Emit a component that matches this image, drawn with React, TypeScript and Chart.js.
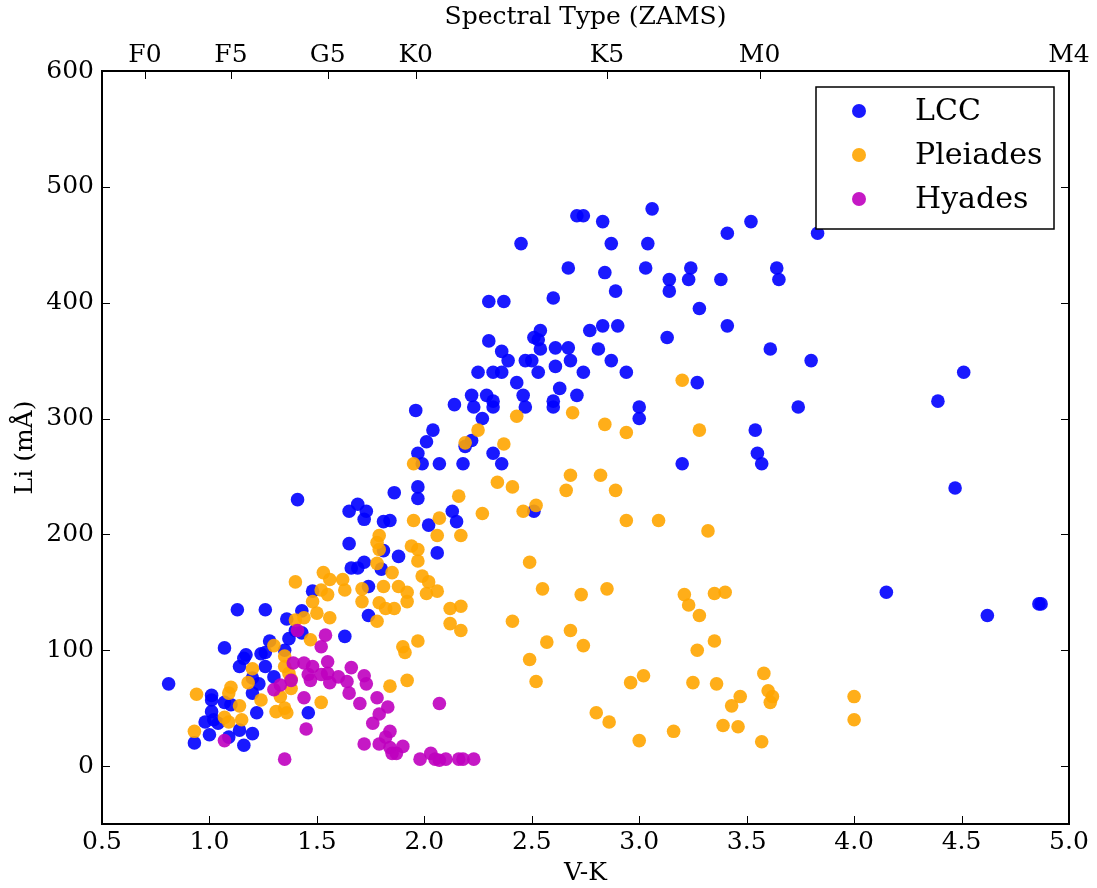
import React, { useEffect, useRef } from "react";
import { Chart, registerables } from "chart.js";
Chart.register(...registerables);

// ---- data (V-K colour, Li equivalent width in mÅ) ----
const lccVK = [0.81,0.93,1.01,1.01,1.07,1.13,1.26,1.41,1.65,1.65,1.66,1.48,1.43,1.36,1.40,1.43,1.37,1.28,1.35,1.24,1.26,1.17,1.16,1.26,1.14,1.30,1.20,1.23,1.20,1.07,1.10,1.01,0.98,1.02,1.04,1.14,1.20,1.00,1.09,1.16,1.22,1.46,1.63,
  1.96,2.14,2.22,2.29,2.32,2.32,2.23,2.27,2.43,2.46,2.47,2.63,2.60,2.60,2.71,2.04,2.01,1.97,1.99,2.07,2.18,2.22,2.19,2.32,2.36,1.97,1.97,1.86,1.69,1.73,1.72,1.81,1.84,2.13,2.15,2.02,2.51,1.81,1.88,2.06,1.80,1.72,1.69,1.74,1.74,
  2.71,2.74,2.83,3.06,2.45,2.87,3.04,2.67,2.84,3.03,3.14,3.14,2.89,2.60,2.30,2.37,2.30,2.36,2.39,2.25,2.32,2.36,2.51,2.54,2.53,2.54,2.61,2.67,2.47,2.50,2.68,2.61,2.53,2.74,2.77,2.83,2.90,2.81,2.87,2.94,3.13,3.00,3.00,
  3.52,3.41,3.83,3.24,3.23,3.38,3.64,3.65,3.28,3.41,3.61,3.80,3.27,3.74,3.54,3.55,3.57,3.20,4.51,4.39,4.47,4.15,4.62,4.86,4.87];
const lccLi = [71,20,61,57,102,135,135,230,220,192,171,151,134,127,117,115,110,108,100,97,98,96,93,86,86,77,76,71,63,55,53,47,38,40,37,31,28,27,25,18,46,46,112,
  307,312,320,320,315,310,310,300,331,320,310,326,315,310,320,290,280,270,261,261,261,281,276,270,261,241,231,236,226,220,213,211,212,220,211,208,220,186,181,184,170,176,171,155,130,
  475,475,470,481,451,451,451,430,426,430,420,410,410,404,401,401,367,358,350,340,340,340,370,376,368,360,361,361,350,350,350,345,340,340,376,380,380,360,350,340,370,310,300,
  470,460,460,430,420,420,430,420,395,380,360,350,331,310,290,270,261,261,340,315,240,150,130,140,140];

const pleVK = [0.94,0.93,1.10,1.09,1.14,1.07,1.09,1.15,1.20,1.18,1.24,1.30,1.35,1.35,1.37,1.38,1.38,1.33,1.31,1.35,1.36,1.52,1.47,1.40,1.44,1.40,1.48,1.50,1.52,1.55,1.53,1.56,1.56,1.62,1.63,
  2.43,2.69,2.25,2.19,2.37,1.95,2.68,2.66,2.34,2.41,2.16,2.27,2.52,2.46,1.95,2.07,2.06,2.17,1.79,1.78,1.79,1.78,1.94,1.97,1.97,2.49,1.85,1.99,2.02,2.06,2.01,1.92,1.88,1.81,1.71,2.55,1.92,1.86,1.82,1.79,1.71,2.12,2.17,2.12,2.17,1.78,2.41,1.97,1.90,1.91,2.49,2.68,2.57,2.52,1.84,1.92,
  3.20,2.84,2.94,3.28,2.82,2.89,2.94,3.09,3.32,2.73,2.85,3.21,3.23,3.28,3.35,3.40,2.74,3.27,3.35,3.02,2.96,3.25,3.36,3.58,3.60,3.62,3.61,3.47,3.43,4.00,4.00,2.80,2.86,3.39,3.46,3.16,3.00,3.57];
const pleLi = [62,30,68,63,52,42,38,40,84,72,57,104,95,86,80,75,67,60,47,50,46,55,109,126,128,159,142,132,152,148,167,161,128,161,152,
  302,305,290,279,278,261,251,238,245,241,233,218,225,220,212,214,199,199,199,193,187,175,190,187,177,176,167,164,159,151,149,150,155,155,153,153,142,136,136,141,142,136,138,123,117,125,125,108,103,98,92,117,107,73,69,74,
  333,295,288,290,251,238,212,212,203,148,153,148,139,130,149,150,104,100,108,78,72,72,71,80,65,60,55,60,52,60,40,46,38,35,34,30,22,21];

const hyaVK = [1.07,1.35,1.41,1.44,1.45,1.52,1.54,1.30,1.33,1.38,1.39,1.44,1.48,1.46,1.47,1.52,1.55,1.55,1.56,1.60,1.64,1.66,1.65,1.72,1.73,1.70,1.78,1.83,1.79,1.76,1.84,1.82,1.72,1.79,1.84,1.85,1.90,1.87,2.07,1.98,2.03,2.05,2.07,2.10,2.16,2.18,2.23];
const hyaLi = [22,6,117,59,32,103,113,66,70,74,89,89,86,79,74,79,90,80,72,77,73,85,63,78,71,54,59,51,45,37,30,25,19,19,16,11,17,11,54,6,11,6,5,6,6,6,6];

const xTickValues = [0.5,1.0,1.5,2.0,2.5,3.0,3.5,4.0,4.5,5.0];
const yTickValues = [0,100,200,300,400,500,600];
const spectralLabels = ["F0","F5","G5","K0","K5","M0","M4"];
const spectralVK = [0.70,1.10,1.55,1.96,2.85,3.56,5.0];

const seriesNames = ["LCC","Pleiades","Hyades"];
const seriesColors = ["rgba(0,0,255,0.9)","rgba(255,165,0,0.9)","rgba(191,0,191,0.9)"];

const FONT = "'DejaVu Serif', serif";

const toPoints = (xs: number[], ys: number[]) => xs.map((x, i) => ({ x, y: ys[i] }));

const framePlugin = {
  id: "framePlugin",
  afterDraw(chart: any) {
    const { ctx, chartArea, scales } = chart;
    const { left, right, top, bottom } = chartArea;
    ctx.save();
    ctx.strokeStyle = "#000";
    ctx.lineWidth = 1;
    const L = 8;
    ctx.beginPath();
    scales.x.ticks.forEach((t: any) => {
      const p = Math.round(scales.x.getPixelForValue(t.value)) + 0.5;
      ctx.moveTo(p, bottom); ctx.lineTo(p, bottom - L);
    });
    scales.x2.ticks.forEach((t: any) => {
      const p = Math.round(scales.x2.getPixelForValue(t.value)) + 0.5;
      ctx.moveTo(p, top); ctx.lineTo(p, top + L);
    });
    scales.y.ticks.forEach((t: any) => {
      const p = Math.round(scales.y.getPixelForValue(t.value)) + 0.5;
      ctx.moveTo(left, p); ctx.lineTo(left + L, p);
      ctx.moveTo(right, p); ctx.lineTo(right - L, p);
    });
    ctx.stroke();
    ctx.lineWidth = 2;
    ctx.strokeRect(left, top, right - left, bottom - top);

    // legend (upper right, inside axes)
    const bw = 238, bh = 142;
    const bx = right - 15 - bw, by = top + 16;
    ctx.fillStyle = "#fff";
    ctx.fillRect(bx, by, bw, bh);
    ctx.lineWidth = 1.5;
    ctx.strokeRect(bx, by, bw, bh);
    ctx.font = `30px ${FONT}`;
    ctx.textBaseline = "middle";
    ctx.textAlign = "left";
    chart.data.datasets.forEach((ds: any, i: number) => {
      const cy = by + 24 + i * 44;
      ctx.beginPath();
      ctx.fillStyle = ds.backgroundColor;
      ctx.arc(bx + 43, cy, 7, 0, Math.PI * 2);
      ctx.fill();
      ctx.fillStyle = "#000";
      ctx.fillText(ds.label, bx + 99, cy + 1);
    });
    ctx.restore();
  },
};

function fitBox(prop: "width" | "height", size: number) {
  return (scale: any) => {
    scale[prop] = size;
    scale.paddingLeft = 0;
    scale.paddingRight = 0;
    scale.paddingTop = 0;
    scale.paddingBottom = 0;
  };
}

export default function App() {
  const ref = useRef<HTMLCanvasElement>(null);
  useEffect(() => {
    if (!ref.current) return;
    const datasets = [
      { label: seriesNames[0], data: toPoints(lccVK, lccLi), order: 3 },
      { label: seriesNames[1], data: toPoints(pleVK, pleLi), order: 2 },
      { label: seriesNames[2], data: toPoints(hyaVK, hyaLi), order: 1 },
    ].map((d, i) => ({
      ...d,
      backgroundColor: seriesColors[i],
      borderColor: seriesColors[i],
      borderWidth: 0,
      pointRadius: 6.8,
      pointHoverRadius: 6.8,
    }));
    const tickFont = { family: FONT, size: 25 };
    const chart = new Chart(ref.current, {
      type: "scatter",
      data: { datasets },
      options: {
        animation: false,
        responsive: false,
        layout: { padding: { left: 0, right: 28, top: 0, bottom: 0 } },
        plugins: { legend: { display: false }, tooltip: { enabled: false } },
        scales: {
          x: {
            type: "linear",
            position: "bottom",
            min: 0.5,
            max: 5.0,
            grid: { display: false, drawTicks: false },
            border: { display: false },
            afterBuildTicks: (s: any) => { s.ticks = xTickValues.map((v) => ({ value: v })); },
            afterFit: fitBox("height", 64),
            ticks: {
              autoSkip: false, maxRotation: 0, padding: 3, color: "#000", font: tickFont,
              callback: (v: any) => Number(v).toFixed(1),
            },
            title: { display: true, text: "V-K", color: "#000", font: tickFont, padding: { top: 0, bottom: 0 } },
          },
          x2: {
            type: "linear",
            position: "top",
            min: 0.5,
            max: 5.0,
            grid: { display: false, drawTicks: false },
            border: { display: false },
            afterBuildTicks: (s: any) => { s.ticks = spectralVK.map((v) => ({ value: v })); },
            afterFit: fitBox("height", 71),
            ticks: {
              autoSkip: false, maxRotation: 0, padding: 1, color: "#000", font: tickFont,
              callback: (_v: any, i: number) => spectralLabels[i],
            },
            title: { display: true, text: "Spectral Type (ZAMS)", color: "#000", font: tickFont, padding: { top: 2, bottom: 2 } },
          },
          y: {
            type: "linear",
            position: "left",
            min: -50,
            max: 600,
            grid: { display: false, drawTicks: false },
            border: { display: false },
            afterBuildTicks: (s: any) => { s.ticks = yTickValues.map((v) => ({ value: v })); },
            afterFit: fitBox("width", 102),
            ticks: { autoSkip: false, padding: 8, color: "#000", font: tickFont },
            title: { display: true, text: "Li (mÅ)", color: "#000", font: tickFont, padding: { top: 10, bottom: 10 } },
          },
        },
      } as any,
      plugins: [framePlugin],
    });
    return () => chart.destroy();
  }, []);
  return (
    <div style={{ position: "absolute", left: 0, top: 0, width: 1097, height: 888, background: "#fff" }}>
      <canvas ref={ref} width={1097} height={888} style={{ width: 1097, height: 888 }} />
    </div>
  );
}
